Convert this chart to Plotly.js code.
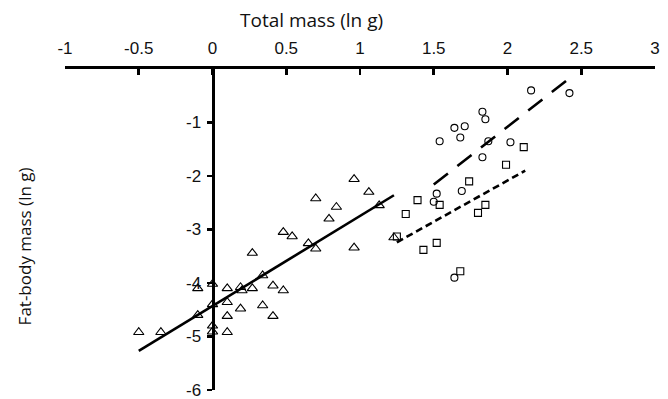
<!DOCTYPE html>
<html>
<head>
<meta charset="utf-8">
<script src="https://cdn.plot.ly/plotly-3.0.1.min.js"></script>
<style>html,body{margin:0;padding:0;background:#fff;}#chart{width:668px;height:399px;}</style>
</head>
<body>
<div id="chart"></div>
<script>
// Group 1 (triangles): ln total mass, ln fat-body mass
const triX = [-0.50, -0.35, -0.10, -0.10, 0.00, 0.00, 0.00, 0.00, 0.10, 0.10, 0.10, 0.10, 0.19, 0.20, 0.19, 0.27, 0.27, 0.34, 0.34, 0.41, 0.41, 0.48, 0.48, 0.54, 0.65, 0.70, 0.70, 0.79, 0.84, 0.96, 0.96, 1.06, 1.13, 1.23];
const triY = [-4.92, -4.92, -4.10, -4.60, -4.02, -4.40, -4.80, -4.91, -4.10, -4.36, -4.62, -4.92, -4.08, -4.14, -4.48, -3.44, -4.10, -3.86, -4.42, -4.05, -4.62, -4.14, -3.05, -3.13, -3.26, -2.42, -3.36, -2.80, -2.58, -2.06, -3.34, -2.30, -2.55, -3.15];
// Group 2 (circles)
const cirX = [2.16, 2.42, 1.83, 1.85, 1.64, 1.71, 1.54, 1.68, 1.87, 2.02, 1.83, 1.52, 1.50, 1.69, 1.64];
const cirY = [-0.40, -0.45, -0.80, -0.94, -1.10, -1.07, -1.35, -1.28, -1.35, -1.37, -1.65, -2.33, -2.48, -2.28, -3.90];
// Group 3 (squares)
const sqX = [2.11, 1.99, 1.74, 1.39, 1.54, 1.31, 1.85, 1.80, 1.25, 1.52, 1.43, 1.68];
const sqY = [-1.46, -1.79, -2.10, -2.45, -2.54, -2.71, -2.54, -2.69, -3.13, -3.25, -3.38, -3.78];
// Fitted regression lines (end points)
const fit1X = [-0.50, 1.23], fit1Y = [-5.27, -2.36];
const fit2X = [1.50, 2.44], fit2Y = [-2.16, -0.13];
const fit3X = [1.25, 2.12], fit3Y = [-3.24, -1.90];
// Tick labels
const xTicks = [-1, -0.5, 0, 0.5, 1, 1.5, 2, 2.5, 3];
const yTicks = [-6, -5, -4, -3, -2, -1];

const mk = (sym, size) => ({symbol: sym, size: size, color: '#000', line: {color: '#000', width: 1.1}});
const traces = [
  {x: fit1X, y: fit1Y, mode: 'lines', line: {color: '#000', width: 2.6}, hoverinfo: 'skip'},
  {x: fit2X, y: fit2Y, mode: 'lines', line: {color: '#000', width: 2.6, dash: '18px,12px'}, hoverinfo: 'skip'},
  {x: fit3X, y: fit3Y, mode: 'lines', line: {color: '#000', width: 2.6, dash: '7px,4px'}, hoverinfo: 'skip'},
  {x: triX, y: triY, mode: 'markers', marker: mk('triangle-up-open', 9)},
  {x: cirX, y: cirY, mode: 'markers', marker: mk('circle-open', 7)},
  {x: sqX, y: sqY, mode: 'markers', marker: mk('square-open', 7)}
];
const tickFont = {family: 'Liberation Sans, Arial, sans-serif', size: 17, color: '#111'};
const layout = {
  width: 668, height: 399,
  margin: {l: 65, r: 13, t: 69, b: 9},
  paper_bgcolor: '#fff', plot_bgcolor: '#fff',
  showlegend: false,
  xaxis: {
    range: [-1, 3], side: 'top', showline: true, linecolor: '#000', linewidth: 2.6,
    ticks: 'inside', ticklen: 6, tickwidth: 2.6, tickcolor: '#000', ticklabelstandoff: 6,
    tickvals: xTicks, ticktext: xTicks.map(String), ticklabeloverflow: 'allow',
    showgrid: false, zeroline: false, tickfont: tickFont
  },
  yaxis: {
    range: [-6, 0], anchor: 'free', position: 0.25, showline: true, linecolor: '#000', linewidth: 3,
    ticks: 'outside', ticklen: 5, tickwidth: 2.6, tickcolor: '#000', ticklabelstandoff: 2,
    tickvals: yTicks, ticktext: yTicks.map(String), ticklabeloverflow: 'allow',
    showgrid: false, zeroline: false, tickfont: tickFont
  },
  annotations: [
    {text: 'Total mass (ln g)', xref: 'paper', yref: 'paper', x: 0.417, y: 1.152, xanchor: 'center', yanchor: 'middle', showarrow: false,
     font: {family: 'Open Sans, sans-serif', size: 19, color: '#111'}},
    {text: 'Fat-body mass (ln g)', xref: 'paper', yref: 'paper', x: -0.068, y: 0.447, xanchor: 'center', yanchor: 'middle', showarrow: false, textangle: -90,
     font: {family: 'Open Sans, sans-serif', size: 17, color: '#111'}}
  ]
};
Plotly.newPlot('chart', traces, layout, {displayModeBar: false, staticPlot: true});
</script>
</body>
</html>
